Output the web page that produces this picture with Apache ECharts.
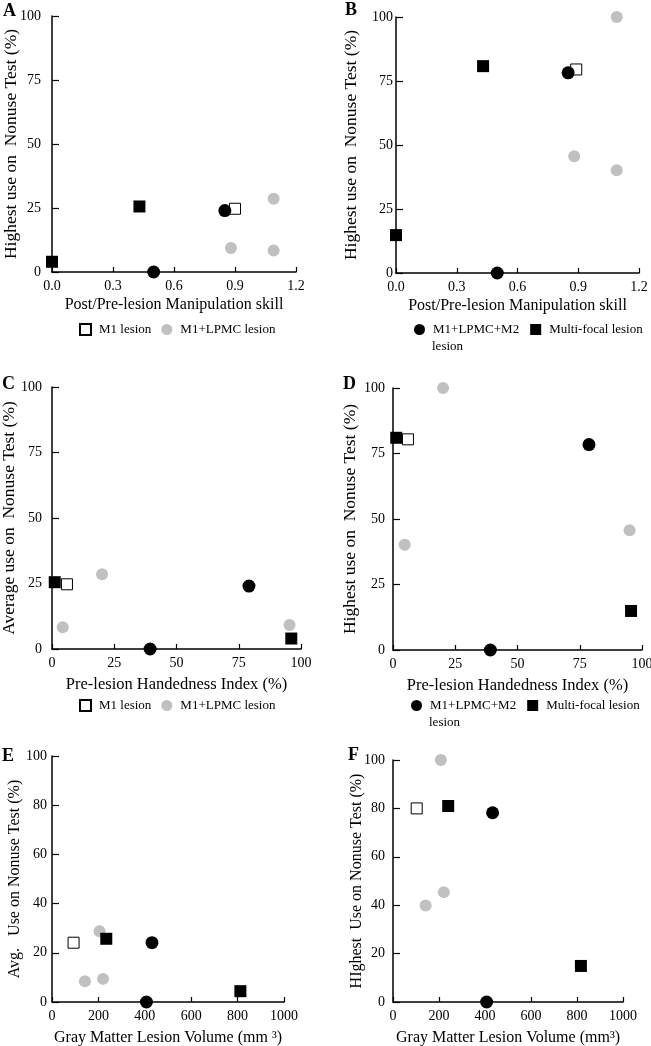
<!DOCTYPE html>
<html>
<head>
<meta charset="utf-8">
<script src="https://cdn.jsdelivr.net/npm/echarts@6.0.0/dist/echarts.min.js"></script>
<style>
  html, body { margin: 0; padding: 0; background: #fff; }
  #chart { width: 651px; height: 1046px; }
</style>
</head>
<body>
<div id="chart"></div>
<script>
// Group names
const GROUPS = ['M1 lesion', 'M1+LPMC lesion', 'M1+LPMC+M2 lesion', 'Multi-focal lesion'];

// Panel A: manipulation skill vs average use
const aM1 = [[0.90, 24.7]];
const aLpmc = [[1.09, 28.6], [0.88, 9.4], [1.09, 8.4]];
const aM2 = [[0.85, 24.0], [0.50, 0]];
const aMulti = [[0.43, 25.6], [0.0, 4.0]];

// Panel B: manipulation skill vs highest use
const bM1 = [[0.89, 79.5]];
const bLpmc = [[1.09, 100], [0.88, 45.6], [1.09, 40.1]];
const bM2 = [[0.85, 78.2], [0.50, 0]];
const bMulti = [[0.43, 80.8], [0.0, 14.8]];

// Panel C: handedness vs average use
const cM1 = [[6.0, 24.7]];
const cLpmc = [[20.1, 28.5], [4.3, 8.3], [95.4, 9.2]];
const cM2 = [[79.1, 24.0], [39.4, 0]];
const cMulti = [[1.1, 25.5], [96.1, 4.0]];

// Panel D: handedness vs highest use
const dM1 = [[6.0, 80.4]];
const dLpmc = [[20.1, 100], [95.0, 45.7], [4.7, 40.2]];
const dM2 = [[78.7, 78.4], [39.1, 0]];
const dMulti = [[1.3, 81.0], [95.6, 14.9]];

// Panel E: lesion volume vs average use
const eM1 = [[93, 24.1]];
const eLpmc = [[205, 28.8], [142, 8.4], [220, 9.4]];
const eM2 = [[431, 24.1], [407, 0]];
const eMulti = [[234, 25.7], [812, 4.4]];

// Panel F: lesion volume vs highest use
const fM1 = [[103, 80]];
const fLpmc = [[208, 100], [221, 45.4], [142, 39.9]];
const fM2 = [[433, 78.2], [407, 0]];
const fMulti = [[240, 81.0], [817, 14.9]];

// Axis texts
const xNames = [
  'Post/Pre-lesion Manipulation skill',
  'Post/Pre-lesion Manipulation skill',
  'Pre-lesion Handedness Index (%)',
  'Pre-lesion Handedness Index (%)',
  'Gray Matter Lesion Volume (mm \u00B3)',
  'Gray Matter Lesion Volume (mm\u00B3)',
];
const yNames = [
  'Highest use on  Nonuse Test (%)',
  'Highest use on  Nonuse Test (%)',
  'Average use on  Nonuse Test (%)',
  'Highest use on  Nonuse Test (%)',
  'Avg.   Use on Nonuse Test (%)',
  'HIghest  Use on Nonuse Test (%)',
];
const panelLetters = ['A', 'B', 'C', 'D', 'E', 'F'];

const panelData = [
  [aM1, aLpmc, aM2, aMulti],
  [bM1, bLpmc, bM2, bMulti],
  [cM1, cLpmc, cM2, cMulti],
  [dM1, dLpmc, dM2, dMulti],
  [eM1, eLpmc, eM2, eMulti],
  [fM1, fLpmc, fM2, fMulti],
];

const FONT = '"Liberation Serif", "Times New Roman", serif';

// layout of each panel (pixels); outerBoundsMode off so the grids stay put
const grids = [
  { left: 52, top: 16, width: 244, height: 256 },
  { left: 396, top: 17, width: 243, height: 256 },
  { left: 52, top: 387, width: 249, height: 262 },
  { left: 393, top: 388, width: 249, height: 262 },
  { left: 52, top: 756, width: 232, height: 246 },
  { left: 393, top: 760, width: 230, height: 242 },
].map((g) => ({ ...g, containLabel: false, outerBoundsMode: 'none' }));
const xRanges = [
  { min: 0, max: 1.2, interval: 0.3, dec: 1 },
  { min: 0, max: 1.2, interval: 0.3, dec: 1 },
  { min: 0, max: 100, interval: 25, dec: 0 },
  { min: 0, max: 100, interval: 25, dec: 0 },
  { min: 0, max: 1000, interval: 200, dec: 0 },
  { min: 0, max: 1000, interval: 200, dec: 0 },
];
const yIntervals = [25, 25, 25, 25, 20, 20];
const yLabelMargins = [11, 3, 10, 8, 5, 8];
const yNameGaps = [32, 36, 34, 34, 29, 28];
const yNameSizes = [17.5, 17.5, 17.5, 17.5, 16, 16];
const xNameGaps = [25, 25, 27, 27, 28, 28];
const xNameSizes = [16, 16, 16.5, 16.5, 16, 16];
const letterPos = [[3, 2], [345, 1], [2, 375], [343, 375], [2, 747], [348, 746]];

const styles = [
  { symbol: 'rect', symbolSize: 11, itemStyle: { color: '#fff', borderColor: '#000', borderWidth: 1, opacity: 1 } },
  { symbol: 'circle', symbolSize: 12, itemStyle: { color: '#c0c0c0', opacity: 1 } },
  { symbol: 'circle', symbolSize: 13, itemStyle: { color: '#000', opacity: 1 } },
  { symbol: 'rect', symbolSize: 12, itemStyle: { color: '#000', opacity: 1 } },
];

const axisLine = { show: true, onZero: false, lineStyle: { color: '#000', width: 1.5 } };
const labelStyle = { color: '#000', fontFamily: FONT, fontSize: 14 };

const xAxes = xRanges.map((r, i) => ({
  gridIndex: i,
  type: 'value',
  min: r.min,
  max: r.max,
  interval: r.interval,
  name: xNames[i],
  nameLocation: 'middle',
  nameGap: xNameGaps[i],
  nameTextStyle: { color: '#000', fontFamily: FONT, fontSize: xNameSizes[i] },
  axisLine: axisLine,
  axisTick: { inside: true, length: 5, lineStyle: { color: '#000', width: 1.2 } },
  axisLabel: { ...labelStyle, margin: 7, formatter: (v) => v.toFixed(r.dec) },
  splitLine: { show: false },
}));

const yAxes = yIntervals.map((iv, i) => ({
  gridIndex: i,
  type: 'value',
  min: 0,
  max: 100,
  interval: iv,
  name: yNames[i],
  nameLocation: 'middle',
  nameGap: yNameGaps[i],
  nameMoveOverlap: false,
  nameTextStyle: { color: '#000', fontFamily: FONT, fontSize: yNameSizes[i] },
  axisLine: axisLine,
  axisTick: { inside: true, length: 7, lineStyle: { color: '#000', width: 1.2 } },
  axisLabel: { ...labelStyle, margin: yLabelMargins[i] },
  splitLine: { show: false },
}));

const series = [];
panelData.forEach((groups, p) => {
  groups.forEach((pts, g) => {
    series.push({
      type: 'scatter',
      name: GROUPS[g],
      xAxisIndex: p,
      yAxisIndex: p,
      data: pts,
      clip: false,
      symbol: styles[g].symbol,
      symbolSize: styles[g].symbolSize,
      itemStyle: styles[g].itemStyle,
      emphasis: { disabled: true },
    });
  });
});

// legends under A/C (left pair) and B/D (right pair)
const legendBase = {
  orient: 'horizontal',
  selectedMode: false,
  itemWidth: 11,
  itemHeight: 11,
  padding: 0,
  textStyle: { color: '#000', fontFamily: FONT, fontSize: 13, padding: [0, 0, 0, 3] },
  formatter: (name) => (name === 'M1+LPMC+M2 lesion' ? 'M1+LPMC+M2' : name),
};
const legends = [
  { ...legendBase, left: 79, top: 323, itemGap: 10, data: [GROUPS[0], GROUPS[1]] },
  { ...legendBase, left: 414, top: 323, itemGap: 11, data: [GROUPS[2], GROUPS[3]] },
  { ...legendBase, left: 79, top: 699, itemGap: 10, data: [GROUPS[0], GROUPS[1]] },
  { ...legendBase, left: 411, top: 699, itemGap: 11, data: [GROUPS[2], GROUPS[3]] },
];

const titles = panelLetters.map((t, i) => ({
  text: t,
  left: letterPos[i][0],
  top: letterPos[i][1],
  padding: 0,
  textStyle: { color: '#000', fontFamily: FONT, fontSize: 18, fontWeight: 'bold' },
}));
// second line of the "M1+LPMC+M2 lesion" legend entries
titles.push(
  { text: 'lesion', left: 432, top: 340, padding: 0, textStyle: { color: '#000', fontFamily: FONT, fontSize: 13, fontWeight: 'normal' } },
  { text: 'lesion', left: 429, top: 716, padding: 0, textStyle: { color: '#000', fontFamily: FONT, fontSize: 13, fontWeight: 'normal' } }
);

const chart = echarts.init(document.getElementById('chart'), null, { renderer: 'canvas' });
chart.setOption({
  animation: false,
  backgroundColor: '#fff',
  title: titles,
  legend: legends,
  grid: grids,
  xAxis: xAxes,
  yAxis: yAxes,
  series: series,
});
</script>
</body>
</html>
